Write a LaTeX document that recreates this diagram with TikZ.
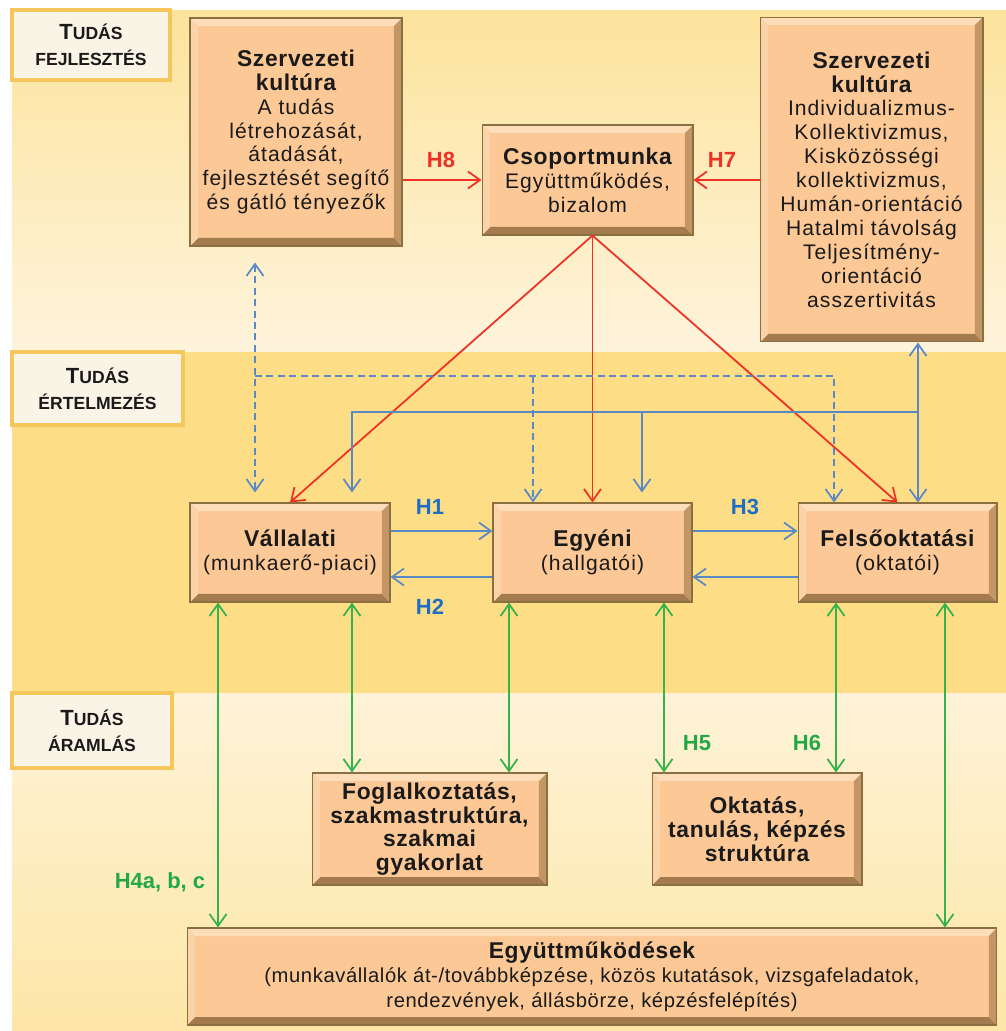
\documentclass[tikz,border=0pt]{standalone}
\usepackage{fontspec}
\setmainfont{Liberation Sans}
\newfontfamily\titlef{Liberation Sans}[LetterSpace=3]
\newfontfamily\bodyf{Liberation Sans}[LetterSpace=5]
\newfontfamily\notef{Liberation Sans}[LetterSpace=3]
\usetikzlibrary{arrows.meta,calc}

\definecolor{bandtopA}{HTML}{FCE39C}
\definecolor{bandtopB}{HTML}{FEF4DC}
\definecolor{bandmid}{HTML}{FDDE87}
\definecolor{bandbotA}{HTML}{FEF3D8}
\definecolor{bandbotB}{HTML}{FDE6A6}
\definecolor{boxfill}{HTML}{FBC896}
\definecolor{boxline}{HTML}{8A7040}
\definecolor{bevtop}{HTML}{FDDDBA}
\definecolor{bevleft}{HTML}{FBD3A9}
\definecolor{bevright}{HTML}{C49565}
\definecolor{bevbot}{HTML}{A47B4E}
\definecolor{lblfill}{HTML}{FAF4E6}
\definecolor{lblline}{HTML}{F5C65C}
\definecolor{txt}{HTML}{1A1A1A}
\definecolor{redc}{HTML}{EE3124}
\definecolor{bluec}{HTML}{5A8AC6}
\definecolor{bluetxt}{HTML}{1F6EC2}
\definecolor{greenc}{HTML}{35B34A}
\definecolor{greentxt}{HTML}{22A844}

\newcommand\ttlfont{\titlef\bfseries\fontsize{13}{13.6}\selectfont}
\newcommand\bdyfont{\bodyf\mdseries\fontsize{12}{13.6}\selectfont}
\newcommand\ntfont{\notef\mdseries\fontsize{11.5}{14}\selectfont}
\newcommand\bigT[1]{{\fontsize{12.5}{15}\selectfont #1}}

\tikzset{
  >={Straight Barb[length=2.4mm,width=3.4mm]},
  bevelbox/.style={rectangle, draw=boxline, line width=0.6pt, fill=boxfill,
    align=center, inner sep=0pt, text=txt, font=\bdyfont,
    path picture={
      \coordinate (bvsw) at (path picture bounding box.south west);
      \coordinate (bvne) at (path picture bounding box.north east);
      \coordinate (bvnw) at (bvsw|-bvne);
      \coordinate (bvse) at (bvsw-|bvne);
      \fill[bevtop] (bvnw) -- (bvne) -- ($(bvne)+(-0.16cm,-0.16cm)$) -- ($(bvnw)+(0.16cm,-0.16cm)$) -- cycle;
      \fill[bevbot] (bvsw) -- (bvse) -- ($(bvse)+(-0.16cm,0.16cm)$) -- ($(bvsw)+(0.16cm,0.16cm)$) -- cycle;
      \fill[bevleft] (bvsw) -- (bvnw) -- ($(bvnw)+(0.16cm,-0.16cm)$) -- ($(bvsw)+(0.16cm,0.16cm)$) -- cycle;
      \fill[bevright] (bvse) -- (bvne) -- ($(bvne)+(-0.16cm,-0.16cm)$) -- ($(bvse)+(-0.16cm,0.16cm)$) -- cycle;
    }},
  lbl/.style={rectangle, draw=lblline, line width=1.8pt, fill=lblfill, align=center,
    text=txt, font=\bfseries\fontsize{10}{15}\selectfont, inner sep=0pt},
  redln/.style={draw=redc, line width=1pt},
  blueln/.style={draw=bluec, line width=1pt},
  dashln/.style={draw=bluec, line width=1pt, dash pattern=on 4pt off 2.5pt},
  greenln/.style={draw=greenc, line width=1pt},
  hred/.style={text=redc, font=\bfseries\fontsize{12.5}{14}\selectfont},
  hblue/.style={text=bluetxt, font=\bfseries\fontsize{12.5}{14}\selectfont},
  hgreen/.style={text=greentxt, font=\bfseries\fontsize{12.5}{14}\selectfont},
}

\begin{document}
\begin{tikzpicture}[x=0.02cm, y=-0.02cm]
\useasboundingbox (0,0) rectangle (1006,1031);
\fill[white] (0,0) rectangle (1006,1031);

% three horizontal bands
\shade[top color=bandtopA, bottom color=bandtopB] (12,10) rectangle (1006,352);
\fill[bandmid] (12,352) rectangle (1006,693);
\shade[top color=bandbotA, bottom color=bandbotB] (12,693) rectangle (1006,1031);

% band titles
\node[lbl, minimum width=3.16cm, minimum height=1.4cm] (lb1) at (91,45) {\bigT{T}UDÁS\\FEJLESZTÉS};
\node[lbl, minimum width=3.42cm, minimum height=1.46cm] (lb2) at (97.5,388.5) {\bigT{T}UDÁS\\ÉRTELMEZÉS};
\node[lbl, minimum width=3.2cm, minimum height=1.5cm] (lb3) at (92,730.5) {\bigT{T}UDÁS\\ÁRAMLÁS};

% boxes (title lines in bold, the rest in the body font)
\node[bevelbox, minimum width=4.24cm, minimum height=4.56cm] (kult1) at (296,132)
  {\ttlfont Szervezeti\\\ttlfont kultúra\\A tudás\\létrehozását,\\átadását,\\fejlesztését segítő\\és gátló tényezők};
\node[bevelbox, minimum width=4.22cm, minimum height=2.2cm] (csop) at (587.5,180)
  {\ttlfont Csoportmunka\\Együttműködés,\\bizalom};
\node[bevelbox, minimum width=4.46cm, minimum height=6.5cm] (kult2) at (871.5,179.5)
  {\ttlfont Szervezeti\\\ttlfont kultúra\\Individualizmus-\\Kollektivizmus,\\Kisközösségi\\kollektivizmus,\\Humán-orientáció\\Hatalmi távolság\\Teljesítmény-\\orientáció\\asszertivitás};
\node[bevelbox, minimum width=4.0cm, minimum height=1.98cm] (vall) at (290,552.5)
  {\ttlfont Vállalati\\(munkaerő-piaci)};
\node[bevelbox, minimum width=3.98cm, minimum height=1.98cm] (egyeni) at (592.5,552.5)
  {\ttlfont Egyéni\\(hallgatói)};
\node[bevelbox, minimum width=3.98cm, minimum height=1.98cm] (felso) at (897.5,552.5)
  {\ttlfont Felsőoktatási\\(oktatói)};
\node[bevelbox, font=\ttlfont, minimum width=4.7cm, minimum height=2.24cm] (fogl) at (429.5,829)
  {Foglalkoztatás,\\szakmastruktúra,\\szakmai\\gyakorlat};
\node[bevelbox, font=\ttlfont, minimum width=4.2cm, minimum height=2.24cm] (okt) at (757,829)
  {Oktatás,\\tanulás, képzés\\struktúra};
\node[bevelbox, font=\ntfont, minimum width=16.2cm, minimum height=1.94cm] (egyutt) at (592,976.5)
  {\ttlfont Együttműködések\\(munkavállalók át-/továbbképzése, közös kutatások, vizsgafeladatok,\\rendezvények, állásbörze, képzésfelépítés)};

% red connectors
\draw[redln,->] (kult1.east |- csop.west) -- (csop.west);
\draw[redln,->] (kult2.west |- csop.east) -- (csop.east);
\coordinate (cs) at (csop.south -| egyeni.north);
\draw[redln,->] (cs) -- (vall.north);
\draw[redln,->] (cs) -- (egyeni.north);
\draw[redln,->] (cs) -- (felso.north);
\node[hred] (h8) at (441,160) {H8};
\node[hred] (h7) at (722,160) {H7};

% blue connectors between the three levels
\draw[blueln,->] ([yshift=0.43cm]vall.east) -- ([yshift=0.43cm]egyeni.west);
\draw[blueln,->] ([yshift=-0.49cm]egyeni.west) -- ([yshift=-0.49cm]vall.east);
\draw[blueln,->] ([yshift=0.43cm]egyeni.east) -- ([yshift=0.43cm]felso.west);
\draw[blueln,->] ([yshift=-0.49cm]felso.west) -- ([yshift=-0.49cm]egyeni.east);
\node[hblue] (h1) at (430,507) {H1};
\node[hblue] (h2) at (430,607) {H2};
\node[hblue] (h3) at (745,507) {H3};

% solid blue tree from the right culture box
\coordinate (kv) at ([xshift=0.93cm]kult2.south);
\draw[blueln,<->] (kv) -- (kv |- felso.north);
\coordinate (bj) at (918,412);
\coordinate (va) at ([xshift=1.24cm]vall.north);
\coordinate (ea) at ([xshift=0.99cm]egyeni.north);
\draw[blueln,->,shorten >=0.2cm] (bj) -| (va);
\draw[blueln,->,shorten >=0.2cm] (ea |- bj) -- (ea);

% dashed blue tree from the left culture box
\coordinate (dt) at ([xshift=-0.82cm,yshift=-0.32cm]kult1.south);
\draw[dashln,<->,shorten >=0.2cm] (dt) -- (dt |- vall.north);
\coordinate (dj) at (255,376);
\coordinate (ed) at ([xshift=-1.19cm]egyeni.north);
\coordinate (fd) at ([xshift=-1.27cm]felso.north);
\draw[dashln,->] (dj) -| (fd);
\draw[dashln,->] (ed |- dj) -- (ed);

% green knowledge-flow connectors
\coordinate (g1) at ([xshift=-1.44cm]vall.south);
\coordinate (g2) at ([xshift=1.24cm]vall.south);
\coordinate (g3) at ([xshift=-1.67cm]egyeni.south);
\coordinate (g4) at ([xshift=1.43cm]egyeni.south);
\coordinate (g5) at ([xshift=-1.23cm]felso.south);
\coordinate (g6) at ([xshift=0.95cm]felso.south);
\draw[greenln,<->] (g1) -- (g1 |- egyutt.north);
\draw[greenln,<->] (g2) -- (g2 |- fogl.north);
\draw[greenln,<->] (g3) -- (g3 |- fogl.north);
\draw[greenln,<->] (g4) -- (g4 |- okt.north);
\draw[greenln,<->] (g5) -- (g5 |- okt.north);
\draw[greenln,<->] (g6) -- (g6 |- egyutt.north);
\node[hgreen] (h5) at (697,743) {H5};
\node[hgreen] (h6) at (807,743) {H6};
\node[hgreen] (h4) at (160,882) {H4a, b, c};
\end{tikzpicture}
\end{document}
